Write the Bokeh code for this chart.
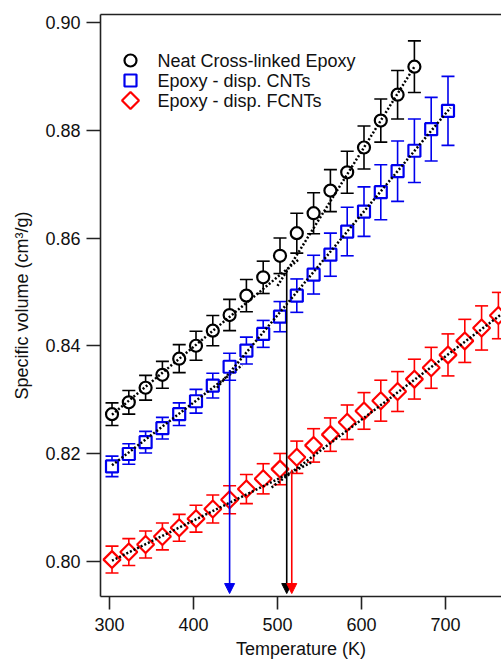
import numpy as np
from bokeh.plotting import figure
from bokeh.models import (ColumnDataSource, Whisker, TeeHead, Arrow, NormalHead,
                          LinearAxis, FixedTicker, Range1d, PrintfTickFormatter)
from bokeh.core.properties import value
from bokeh.embed import file_html
from bokeh.resources import INLINE

# ---------------- data ----------------
temp_neat = [303, 323, 343, 363, 383, 403, 423, 443, 463, 483, 503, 523, 543, 563, 583, 603, 623, 643, 663]
vol_neat = [0.8273, 0.8295, 0.8322, 0.8346, 0.8376, 0.8400, 0.8428, 0.8457, 0.8493, 0.8527,
            0.8567, 0.8609, 0.8646, 0.8688, 0.8722, 0.8768, 0.8818, 0.8866, 0.8918]
err_neat = [0.0021, 0.0022, 0.0023, 0.0025, 0.0026, 0.0027, 0.0028, 0.0029, 0.0030, 0.0030,
            0.0033, 0.0037, 0.0038, 0.0039, 0.0039, 0.0040, 0.0040, 0.0045, 0.0048]

temp_cnt = [303, 323, 343, 363, 383, 403, 423, 443, 463, 483, 503, 523, 543, 563, 583, 603, 623, 643, 663, 683, 703]
vol_cnt = [0.8176, 0.8199, 0.8221, 0.8247, 0.8273, 0.8297, 0.8326, 0.8361, 0.8391, 0.8422,
           0.8454, 0.8493, 0.8532, 0.8569, 0.8612, 0.8649, 0.8685, 0.8724, 0.8762, 0.8802, 0.8836]
err_cnt = [0.0019, 0.0019, 0.0020, 0.0020, 0.0021, 0.0022, 0.0023, 0.0025, 0.0025, 0.0025,
           0.0028, 0.0031, 0.0036, 0.0040, 0.0045, 0.0046, 0.0051, 0.0056, 0.0059, 0.0059, 0.0064]

temp_fcnt = [303, 323, 343, 363, 383, 403, 423, 443, 463, 483, 503, 523, 543, 563, 583, 603,
             623, 643, 663, 683, 703, 723, 743, 763]
vol_fcnt = [0.8003, 0.8017, 0.8031, 0.8046, 0.8062, 0.8079, 0.8097, 0.8114, 0.8134, 0.8153,
            0.8171, 0.8193, 0.8215, 0.8235, 0.8258, 0.8279, 0.8298, 0.8315, 0.8338, 0.8359,
            0.8383, 0.8409, 0.8433, 0.8456]
err_fcnt = [0.0025, 0.0025, 0.0025, 0.0025, 0.0025, 0.0025, 0.0026, 0.0026, 0.0027, 0.0028,
            0.0029, 0.0030, 0.0031, 0.0031, 0.0032, 0.0034, 0.0038, 0.0037, 0.0037, 0.0038,
            0.0039, 0.0040, 0.0041, 0.0043]

# dotted linear fits (glassy / rubbery regions)
fit_neat_low_t = [303, 525]
fit_neat_low_v = [0.8272, 0.8560]
fit_neat_high_t = [500, 663]
fit_neat_high_v = [0.8511, 0.8918]
fit_cnt_low_t = [303, 458]
fit_cnt_low_v = [0.8178, 0.8364]
fit_cnt_high_t = [428, 706]
fit_cnt_high_v = [0.8322, 0.8842]
fit_fcnt_low_t = [303, 540]
fit_fcnt_low_v = [0.8001, 0.8183]
fit_fcnt_high_t = [493, 790]
fit_fcnt_high_v = [0.8137, 0.8486]

# glass transition arrows
tg_temp = [443, 511, 517]
tg_top = [0.8355, 0.8542, 0.8170]
tg_bottom = [0.7940, 0.7940, 0.7940]

labels = ["Neat Cross-linked Epoxy", "Epoxy - disp. CNTs", "Epoxy - disp. FCNTs"]
x_ticks = [300, 400, 500, 600, 700]
y_ticks = [0.80, 0.82, 0.84, 0.86, 0.88, 0.90]

FONT = "Liberation Sans"
BLACK = "#000000"
BLUE = "#0000ee"
RED = "#ff0000"
tg_colors = [BLUE, BLACK, RED]

FRAME_W, FRAME_H = 401, 582
p = figure(width=501, height=663, output_backend="svg", toolbar_location=None,
           x_range=Range1d(289.3, 766.7), y_range=Range1d(0.79345, 0.90149),
           min_border_left=100, min_border_right=0, min_border_top=14, min_border_bottom=67)
p.outline_line_color = None
p.grid.visible = False
p.background_fill_color = "white"
# pixel-like ranges for the legend block (screen layout, not data)
p.extra_x_ranges = {"legx": Range1d(0, FRAME_W)}
p.extra_y_ranges = {"legy": Range1d(FRAME_H, 0)}


def whisk(t, v, e, color):
    src = ColumnDataSource(dict(x=t, upper=np.array(v) + np.array(e), lower=np.array(v) - np.array(e)))
    w = Whisker(source=src, base="x", upper="upper", lower="lower",
                line_color=color, line_width=1.6,
                upper_head=TeeHead(size=13, line_color=color, line_width=1.6),
                lower_head=TeeHead(size=13, line_color=color, line_width=1.6))
    p.add_layout(w)


whisk(temp_neat, vol_neat, err_neat, BLACK)
whisk(temp_cnt, vol_cnt, err_cnt, BLUE)
whisk(temp_fcnt, vol_fcnt, err_fcnt, RED)

marker_styles = [dict(marker="circle", angle=0, line_color=BLACK),
                 dict(marker="square", angle=0, line_color=BLUE),
                 dict(marker="square", angle=np.pi / 4, line_color=RED)]

for (t, v), st in zip([(temp_neat, vol_neat), (temp_cnt, vol_cnt), (temp_fcnt, vol_fcnt)], marker_styles):
    p.scatter(t, v, size=12, line_width=2.2, fill_color="white", **st)

for ft, fv in [(fit_neat_low_t, fit_neat_low_v), (fit_neat_high_t, fit_neat_high_v),
               (fit_cnt_low_t, fit_cnt_low_v), (fit_cnt_high_t, fit_cnt_high_v),
               (fit_fcnt_low_t, fit_fcnt_low_v), (fit_fcnt_high_t, fit_fcnt_high_v)]:
    p.line(ft, fv, line_color=BLACK, line_width=2.5, line_dash="2 2")

for t, top, bot, c in zip(tg_temp, tg_top, tg_bottom, tg_colors):
    p.add_layout(Arrow(x_start=t, y_start=top, x_end=t, y_end=bot,
                       line_color=c, line_width=1.6,
                       end=NormalHead(size=10, fill_color=c, line_color=c, line_width=1)))

# ---------------- legend (drawn in frame pixel units) ----------------
LEG_X, LEG_Y0, LEG_DY, LEG_TEXT_DX = 30, 46, 20, 27
for i, (lab, st) in enumerate(zip(labels, marker_styles)):
    yy = LEG_Y0 + i * LEG_DY
    p.scatter([LEG_X], [yy], size=12, line_width=2.2, fill_color="white",
              x_range_name="legx", y_range_name="legy", **st)
    p.text([LEG_X + LEG_TEXT_DX], [yy], text=[lab], x_range_name="legx", y_range_name="legy",
           text_font=value(FONT), text_font_size="18px", text_baseline="middle",
           text_align="left", text_color="#111111")

# ---------------- axes ----------------
for ax in [p.xaxis[0], p.yaxis[0]]:
    ax.axis_line_width = 1.6
    ax.axis_line_color = "#222222"
    ax.major_tick_line_width = 1.6
    ax.major_tick_line_color = "#222222"
    ax.major_tick_in = 0
    ax.minor_tick_in = 0
    ax.minor_tick_out = 0
    ax.major_label_text_font = FONT
    ax.major_label_text_font_size = "18px"
    ax.major_label_text_color = "#111111"
    ax.axis_label_text_font = FONT
    ax.axis_label_text_font_size = "18px"
    ax.axis_label_text_font_style = "normal"
    ax.axis_label_text_color = "#111111"

p.xaxis[0].ticker = FixedTicker(ticks=x_ticks)
p.xaxis[0].major_tick_out = 13
p.xaxis[0].major_label_standoff = 8
p.xaxis[0].axis_label = "Temperature (K)"
p.xaxis[0].axis_label_standoff = 5

p.yaxis[0].ticker = FixedTicker(ticks=y_ticks)
p.yaxis[0].formatter = PrintfTickFormatter(format="%.2f")
p.yaxis[0].major_tick_out = 14
p.yaxis[0].major_label_standoff = 6
p.yaxis[0].axis_label = "Specific volume (cm³/g)"
p.yaxis[0].axis_label_standoff = 10

top_axis = LinearAxis(ticker=FixedTicker(ticks=[]), axis_line_width=1.6, axis_line_color="#222222",
                      major_tick_in=0, major_tick_out=0, minor_tick_in=0, minor_tick_out=0,
                      major_label_standoff=0)
p.add_layout(top_axis, "above")

open("out.html", "w").write(file_html(p, INLINE))
